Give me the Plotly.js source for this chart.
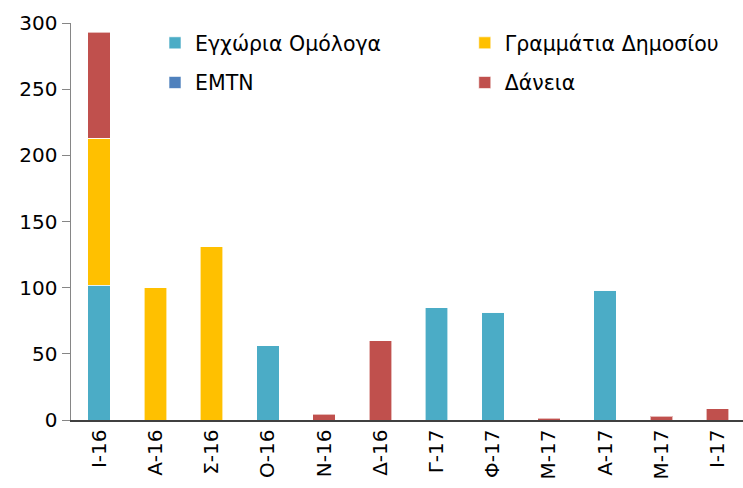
<!DOCTYPE html>
<html><head><meta charset="utf-8">
<script src="https://cdn.plot.ly/plotly-3.0.1.min.js"></script>
<style>html,body{margin:0;padding:0;background:#fff}</style>
</head><body><div id="chart" style="width:743px;height:488px"></div>
<script>
const categories = ["Ι-16","Α-16","Σ-16","Ο-16","Ν-16","Δ-16","Γ-17","Φ-17","Μ-17","Α-17","Μ-17","Ι-17"];
const domesticBonds = [102, 0, 0, 56, 0, 0, 85, 81.5, 0, 98, 0, 0];
const tBills = [111, 100, 131, 0, 0, 0, 0, 0, 0, 0, 0, 0];
const emtn = [0, 0, 0, 0, 0, 0, 0, 0, 0, 0, 0, 0];
const loans = [80, 0, 0, 0, 4.5, 60, 0, 0, 1.5, 0, 3, 8.5];

const xs = categories.map((c, i) => i);
const line = {color: 'rgba(255,255,255,0.6)', width: 1};
const traces = [
  {type:'bar', name:'Εγχώρια Ομόλογα', x:xs, y:domesticBonds, marker:{color:'#4BACC6', line}, legend:'legend', legendgroup:'a'},
  {type:'bar', name:'Γραμμάτια Δημοσίου', x:xs, y:tBills, marker:{color:'#FFC000', line}, legend:'legend2', legendgroup:'b'},
  {type:'bar', name:'EMTN', x:xs, y:emtn, marker:{color:'#4F81BD', line}, legend:'legend', legendgroup:'c'},
  {type:'bar', name:'Δάνεια', x:xs, y:loans, marker:{color:'#C0504D', line}, legend:'legend2', legendgroup:'d'}
];
const font = {family:'DejaVu Sans, Verdana, sans-serif', size:20, color:'#000'};
const lfont = {family:'DejaVu Sans, Verdana, sans-serif', size:20.5, color:'#000'};
const layout = {
  width:743, height:488,
  margin:{l:71, r:0, t:23, b:68},
  barmode:'stack', bargap:0.6,
  paper_bgcolor:'#fff', plot_bgcolor:'#fff',
  font: font,
  showlegend:true,
  legend:{x:0.125, y:1.0, xanchor:'left', yanchor:'top', traceorder:'grouped', bgcolor:'rgba(0,0,0,0)', font:lfont, itemwidth:30, tracegroupgap:10},
  legend2:{x:0.586, y:1.0, xanchor:'left', yanchor:'top', traceorder:'grouped', bgcolor:'rgba(0,0,0,0)', font:lfont, itemwidth:30, tracegroupgap:10},
  xaxis:{range:[-0.5, 11.45], tickmode:'array', tickvals:xs, ticktext:categories, tickangle:-90,
         showline:true, linecolor:'#404040', linewidth:1.5, ticks:'', showgrid:false, zeroline:false, tickfont:font, fixedrange:true},
  yaxis:{range:[0,300], dtick:50, showline:true, linecolor:'#868686', linewidth:1.5, ticks:'outside', ticklen:8, tickcolor:'#868686',
         showgrid:false, zeroline:false, tickfont:font, fixedrange:true}
};
Plotly.newPlot('chart', traces, layout, {displayModeBar:false, staticPlot:true});
</script></body></html>
